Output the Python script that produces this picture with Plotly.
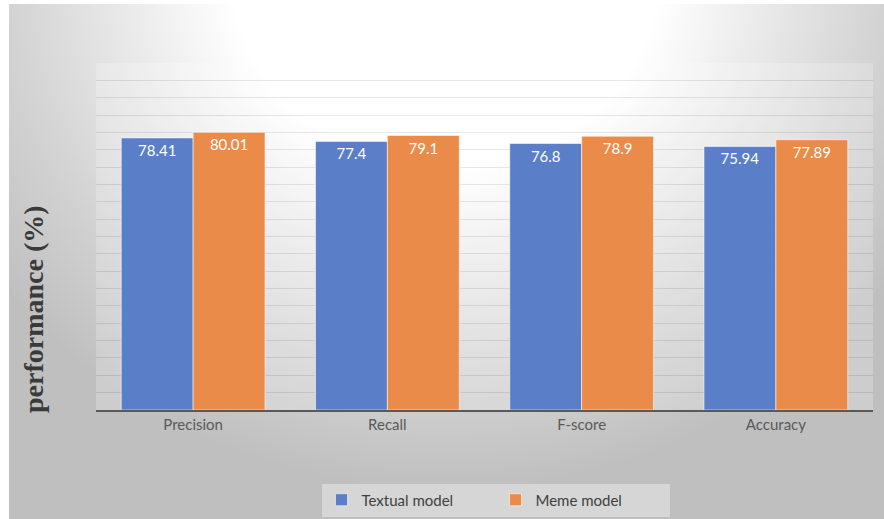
import base64
import plotly.graph_objects as go

categories = ["Precision", "Recall", "F-score", "Accuracy"]
textual_model = [78.41, 77.4, 76.8, 75.94]
meme_model = [80.01, 79.1, 78.9, 77.89]
value_labels_textual = ["78.41", "77.4", "76.8", "75.94"]
value_labels_meme = ["80.01", "79.1", "78.9", "77.89"]

W, H = 884, 519
L, R, T, B = 96, 11, 63, 109
pw, ph = W - L - R, H - T - B

# background gradient as svg image (figure from x=9,y=4 to right/bottom edges)
bx, by = 9, 4
bw, bh = W - bx, H - by
svg = f'''<svg xmlns="http://www.w3.org/2000/svg" width="{bw}" height="{bh}" viewBox="0 0 {bw} {bh}" preserveAspectRatio="none">
<defs><radialGradient id="g" gradientUnits="userSpaceOnUse" cx="0" cy="0" r="1" gradientTransform="translate({445-bx},{-30-by}) scale(560,520)">
<stop offset="0" stop-color="#ffffff"/><stop offset="0.38" stop-color="#ffffff"/>
<stop offset="0.78" stop-color="#d3d3d3"/><stop offset="1" stop-color="#bfbfbf"/></radialGradient></defs>
<rect x="0" y="0" width="{bw}" height="{bh}" fill="url(#g)"/>
<rect x="{L-bx}" y="{T-by}" width="{pw}" height="{ph}" fill="#ffffff" fill-opacity="0.22"/>
</svg>'''
src = "data:image/svg+xml;base64," + base64.b64encode(svg.encode()).decode()

font_main = "Lato, 'Open Sans', sans-serif"

fig = go.Figure()
fig.add_trace(go.Bar(
    x=categories, y=textual_model, name="Textual model",
    marker=dict(color="#5a7ec7", line=dict(color="rgba(255,255,255,0.55)", width=1)),
    text=value_labels_textual, textposition="inside", insidetextanchor="end",
    textfont=dict(color="white", size=15, family=font_main), textangle=0,
))
fig.add_trace(go.Bar(
    x=categories, y=meme_model, name="Meme model",
    marker=dict(color="#eb8b49", line=dict(color="rgba(255,255,255,0.55)", width=1)),
    text=value_labels_meme, textposition="inside", insidetextanchor="end",
    textfont=dict(color="white", size=15, family=font_main), textangle=0,
))

def px2paper_x(px):
    return (px - L) / pw

def px2paper_y(py):
    return (H - B - py) / ph

fig.update_layout(
    width=W, height=H,
    margin=dict(l=L, r=R, t=T, b=B, pad=0, autoexpand=False),
    paper_bgcolor="white",
    plot_bgcolor="rgba(0,0,0,0)",
    barmode="group", bargap=0.26, bargroupgap=0,
    showlegend=True,
    legend=dict(
        orientation="h", x=px2paper_x(495.5), y=px2paper_y(500),
        xanchor="center", yanchor="middle",
        bgcolor="#d6d6d6", borderwidth=0,
        font=dict(family=font_main, size=15, color="#404040"),
        entrywidth=129, entrywidthmode="pixels",
    ),
    xaxis=dict(
        showline=True, linecolor="#595959", linewidth=2, layer="below traces",
        ticks="", tickfont=dict(family=font_main, size=15, color="#595959"),
        showgrid=False,
    ),
    yaxis=dict(
        range=[0, 100], dtick=5, showticklabels=False, ticks="",
        showgrid=True, gridcolor="rgba(0,0,0,0.09)", gridwidth=1,
        zeroline=False, showline=False,
    ),
    images=[dict(
        source=src, xref="paper", yref="paper",
        x=px2paper_x(bx), y=px2paper_y(by),
        sizex=bw / pw, sizey=bh / ph,
        xanchor="left", yanchor="top", sizing="stretch", layer="below",
    )],
    annotations=[dict(
        text="<b>performance (%)</b>", textangle=-90,
        xref="paper", yref="paper", x=px2paper_x(33), y=px2paper_y(309),
        xanchor="center", yanchor="middle", showarrow=False,
        font=dict(family="'Liberation Serif', 'DejaVu Serif', serif", size=28, color="#3a3a3a"),
    )],
)

fig.write_html("out.html")
